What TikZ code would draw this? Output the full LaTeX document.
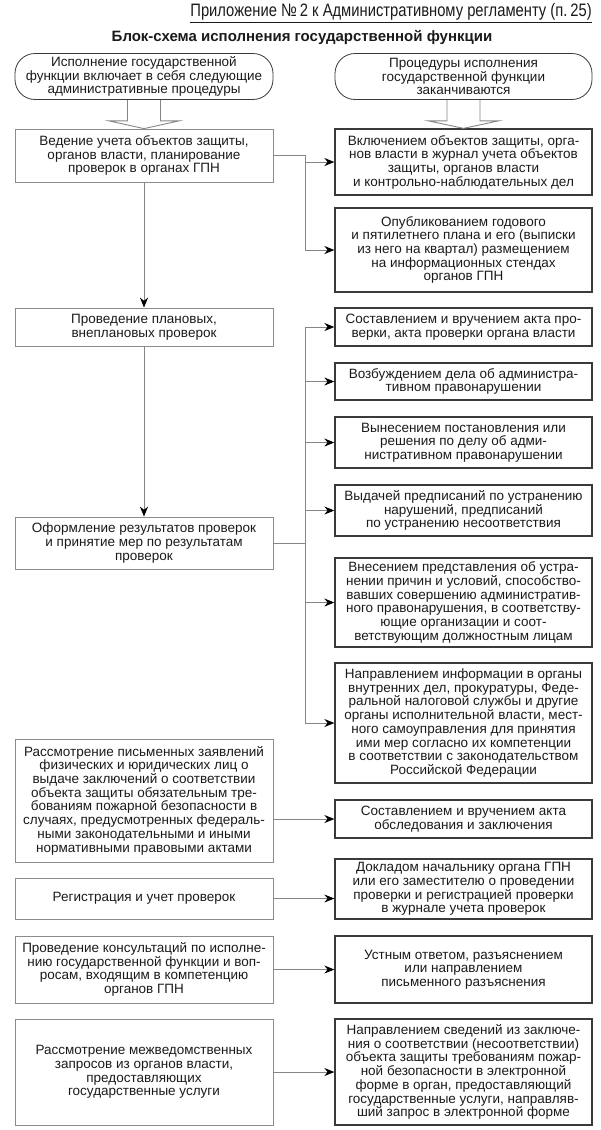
\documentclass[tikz,border=0pt]{standalone}
\usepackage{fontspec}
\setmainfont{Liberation Sans}
\newfontfamily\hdrfont[FakeStretch=0.82]{Liberation Sans}
\usetikzlibrary{arrows.meta,calc}
\definecolor{txt}{HTML}{1A1A1A}
\definecolor{lgray}{HTML}{8C8C8C}
\definecolor{rdark}{HTML}{3A3A3A}
\definecolor{cgray}{HTML}{858585}
\begin{document}
\begin{tikzpicture}[x=1pt,y=-1pt,
  every node/.style={font=\fontsize{13.5}{13.7}\selectfont, text=txt, align=center, inner sep=0pt},
  lbox/.style={draw=lgray, line width=0.8pt, minimum width=258pt},
  rbox/.style={draw=rdark, line width=1.3pt, minimum width=257pt},
  rnd/.style={draw=rdark, line width=0.8pt, rounded corners=20pt, minimum height=46pt},
  conn/.style={draw=cgray, line width=0.9pt},
  arr/.style={conn, -{Stealth[length=10pt,width=8pt,color=black]}},
  hollow/.style={draw=cgray, line width=0.9pt}
]
\useasboundingbox (0,0) rectangle (600,1130);

\node[font=\hdrfont\fontsize{18}{20}\selectfont, anchor=east] (hdr) at (592,13) {\underline{Приложение №\,2 к Административному регламенту (п.\,25)}};
\node[font=\bfseries\fontsize{15}{17}\selectfont] (title) at (302,37) {Блок-схема исполнения государственной функции};

\node[rnd, minimum width=258pt] (L0) at (144,76.5) {Исполнение государственной\\функции включает в себя следующие\\административные процедуры};
\node[rnd, minimum width=257pt] (R0) at (463.5,76.5) {Процедуры исполнения\\государственной функции\\заканчиваются};

\node[lbox, minimum height=53pt] (B1) at (144,155.5) {Ведение учета объектов защиты,\\органов власти, планирование\\проверок в органах ГПН};
\node[rbox, minimum height=66pt] (R1) at (463.5,162) {Включением объектов защиты, орга-\\нов власти в журнал учета объектов\\защиты, органов власти\\и контрольно-наблюдательных дел};
\node[rbox, minimum height=84pt] (R2) at (463.5,250) {Опубликованием годового\\и пятилетнего плана и его (выписки\\из него на квартал) размещением\\на информационных стендах\\органов ГПН};

\node[lbox, minimum height=38pt] (B2) at (144,327) {Проведение плановых,\\внеплановых проверок};
\node[rbox, minimum height=38pt] (R3) at (463.5,327) {Составлением и вручением акта про-\\верки, акта проверки органа власти};
\node[rbox, minimum height=37pt] (R4) at (463.5,381.5) {Возбуждением дела об администра-\\тивном правонарушении};
\node[rbox, minimum height=51pt] (R5) at (463.5,442.5) {Вынесением постановления или\\решения по делу об адми-\\нистративном правонарушении};
\node[rbox, minimum height=51pt] (R6) at (463.5,510.5) {Выдачей предписаний по устранению\\нарушений, предписаний\\по устранению несоответствия};
\node[lbox, minimum height=52pt] (B3) at (144,543) {Оформление результатов проверок\\и принятие мер по результатам\\проверок};
\node[rbox, minimum height=89pt] (R7) at (463.5,602.5) {Внесением представления об устра-\\нении причин и условий, способство-\\вавших совершению административ-\\ного правонарушения, в соответству-\\ющие организации и соот-\\ветствующим должностным лицам};
\node[rbox, minimum height=120pt] (R8) at (463.5,723) {Направлением информации в органы\\внутренних дел, прокуратуры, Феде-\\ральной налоговой службы и другие\\органы исполнительной власти, мест-\\ного самоуправления для принятия\\ими мер согласно их компетенции\\в соответствии с законодательством\\Российской Федерации};

\node[lbox, minimum height=123pt] (L4) at (144,800.5) {Рассмотрение письменных заявлений\\физических и юридических лиц о\\выдаче заключений о соответствии\\объекта защиты обязательным тре-\\бованиям пожарной безопасности в\\случаях, предусмотренных федераль-\\ными законодательными и иными\\нормативными правовыми актами};
\node[rbox, minimum height=38pt] (R9) at (463.5,819) {Составлением и вручением акта\\обследования и заключения};

\node[lbox, minimum height=41pt] (L5) at (144,898.5) {Регистрация и учет проверок};
\node[rbox, minimum height=60pt] (R10) at (463.5,889) {Докладом начальнику органа ГПН\\или его заместителю о проведении\\проверки и регистрацией проверки\\в журнале учета проверок};

\node[lbox, minimum height=67pt] (L6) at (144,969.5) {Проведение консультаций по исполне-\\нию государственной функции и воп-\\росам, входящим в компетенцию\\органов ГПН};
\node[rbox, minimum height=67pt] (R11) at (463.5,969.5) {Устным ответом, разъяснением\\или направлением\\письменного разъяснения};

\node[lbox, minimum height=106pt] (L7) at (144,1072) {Рассмотрение межведомственных\\запросов из органов власти,\\предоставляющих\\государственные услуги};
\node[rbox, minimum height=106pt] (R12) at (463.5,1072) {Направлением сведений из заключе-\\ния о соответствии (несоответствии)\\объекта защиты требованиям пожар-\\ной безопасности в электронной\\форме в орган, предоставляющий\\государственные услуги, направляв-\\ший запрос в электронной форме};

% hollow block arrows
\draw[hollow] ($(L0.south)+(-16.5,0)$) -- ($(L0.south)+(-16.5,21)$) -- ($(L0.south)+(-35,21)$) -- (B1.north) -- ($(L0.south)+(35,21)$) -- ($(L0.south)+(16.5,21)$) -- ($(L0.south)+(16.5,0)$);
\draw[hollow] ($(R0.south)+(-16.5,0)$) -- ($(R0.south)+(-16.5,21)$) -- ($(R0.south)+(-35,21)$) -- (R1.north) -- ($(R0.south)+(35,21)$) -- ($(R0.south)+(16.5,21)$) -- ($(R0.south)+(16.5,0)$);

% connectors
\coordinate (trunk) at (305,0);
\draw[arr] (B1.south) -- (B2.north);
\draw[arr] (B2.south) -- (B3.north);
\draw[conn] (B1.east) -- (trunk |- B1.east) -- (trunk |- R2.west);
\draw[arr] (trunk |- R1.west) -- (R1.west);
\draw[arr] (trunk |- R2.west) -- (R2.west);
\draw[conn] (trunk |- R3.west) -- (trunk |- R8.west);
\draw[conn] (B3.east) -- (trunk |- B3.east);
\foreach \r in {R3,R4,R5,R6,R7,R8}{\draw[arr] (trunk |- \r.west) -- (\r.west);}
\draw[arr] (R9.west -| L4.east) -- (R9.west);
\draw[arr] (L5.east) -- (L5.east -| R10.west);
\draw[arr] (L6.east) -- (R11.west);
\draw[arr] (L7.east) -- (R12.west);
\end{tikzpicture}
\end{document}
